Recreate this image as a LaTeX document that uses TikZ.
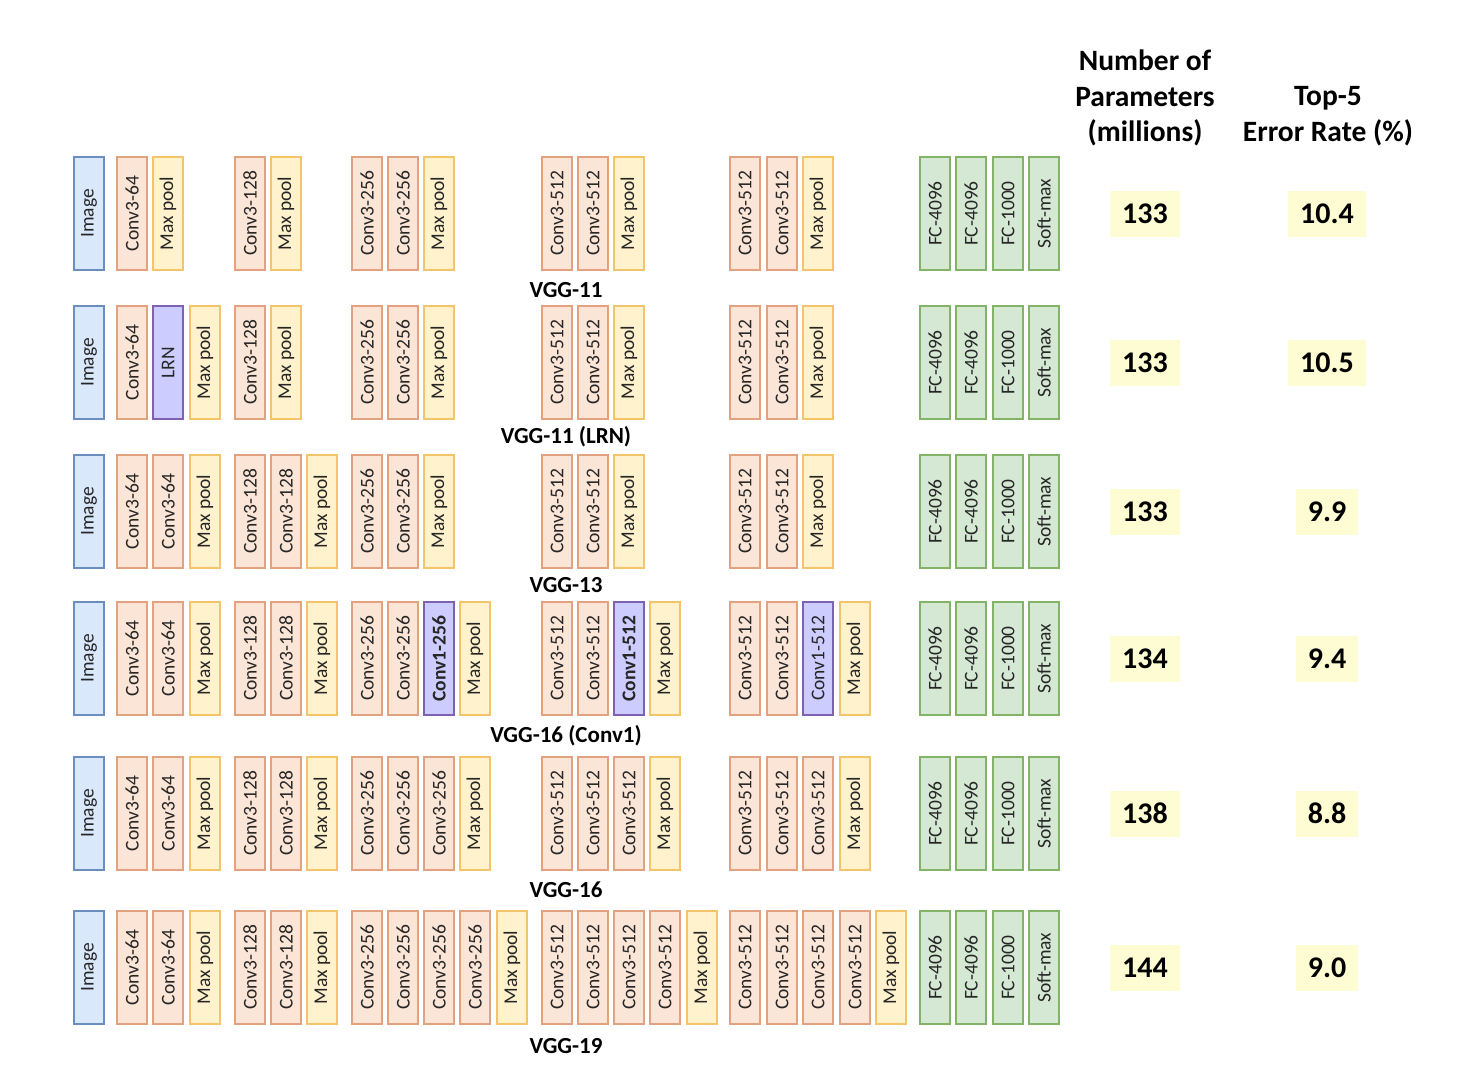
\documentclass[tikz,border=0pt]{standalone}
\usepackage{fontspec}
\setmainfont{Carlito}
\usetikzlibrary{positioning}
\definecolor{imgfill}{HTML}{DAE8FC}
\definecolor{imgdraw}{HTML}{6C8EBF}
\definecolor{convfill}{HTML}{FBE5D6}
\definecolor{convdraw}{HTML}{E3A27F}
\definecolor{poolfill}{HTML}{FFF2CC}
\definecolor{pooldraw}{HTML}{F4C46A}
\definecolor{lrnfill}{HTML}{CCCCFF}
\definecolor{lrndraw}{HTML}{7E62B2}
\definecolor{fcfill}{HTML}{D5E8D4}
\definecolor{fcdraw}{HTML}{82B366}
\definecolor{numfill}{HTML}{FEFCD2}
\tikzset{
	layer/.style = {
		rectangle,
		rotate=90,
		inner sep=0pt,
		minimum width=113pt,
		minimum height=30pt,
		line width=1.1pt,
		text=black!85,
		font=\fontsize{19.5}{19.5}\selectfont
	},
	node_img/.style = {
		layer,
		fill=imgfill,
		draw=imgdraw
	},
	node_conv/.style = {
		layer,
		fill=convfill,
		draw=convdraw
	},
	node_pool/.style = {
		layer,
		fill=poolfill,
		draw=pooldraw
	},
	node_lrn/.style = {
		layer,
		fill=lrnfill,
		draw=lrndraw
	},
	node_fc/.style = {
		layer,
		fill=fcfill,
		draw=fcdraw
	},
	node_num/.style = {
		fill=numfill,
		inner xsep=12pt,
		inner ysep=0pt,
		minimum height=46pt,
		font=\fontsize{30}{30}\selectfont\bfseries
	},
	node_head/.style = {
		align=center,
		font=\fontsize{29.5}{35.5}\selectfont\bfseries
	},
	node_name/.style = {
		font=\fontsize{23}{23}\selectfont\bfseries
	}
}
\def\colx{{89,132,168,205,250,286,322,367,403,439,475,512,557,593,629,665,702,745,782,818,855,891,935,971,1008,1044}}

\begin{document}
\begin{tikzpicture}[x=1pt,y=-1pt]
\useasboundingbox (0,0) rectangle (1460,1076);
\node [node_head] (head_par) at (1145,98) {Number of\\Parameters\\(millions)};
\node [node_head] (head_err) at (1328,116) {Top-5\\Error Rate (\%)};
% parts shared by all six rows
\foreach \r/\y/\ly/\name/\np/\err in {
	1/213.5/290/VGG-11/133/10.4,
	2/362.5/437/VGG-11 (LRN)/133/10.5,
	3/511.5/585/VGG-13/133/9.9,
	4/658.5/736/VGG-16 (Conv1)/134/9.4,
	5/813.5/890/VGG-16/138/8.8,
	6/967.5/1046/VGG-19/144/9.0} {
	\node [node_img] (img\r) at (89,\y) {Image};
	\node [node_fc] (fc\r-a) at (935,\y) {FC-4096};
	\node [node_fc] (fc\r-b) at (971,\y) {FC-4096};
	\node [node_fc] (fc\r-c) at (1008,\y) {FC-1000};
	\node [node_fc] (soft\r) at (1044,\y) {Soft-max};
	\node [node_name] (name\r) at (566,\ly) {\name};
	\node [node_num] (par\r) at (1145,\y) {\np};
	\node [node_num] (err\r) at (1327,\y) {\err};
}
% VGG-11
\foreach \c/\s/\t in {1/node_conv/Conv3-64, 2/node_pool/Max pool, 4/node_conv/Conv3-128, 5/node_pool/Max pool,
	7/node_conv/Conv3-256, 8/node_conv/Conv3-256, 9/node_pool/Max pool, 12/node_conv/Conv3-512, 13/node_conv/Conv3-512,
	14/node_pool/Max pool, 17/node_conv/Conv3-512, 18/node_conv/Conv3-512, 19/node_pool/Max pool} {
	\pgfmathsetmacro\x{\colx[\c]}
	\node [\s] (l1-\c) at (\x,213.5) {\t};
}
% VGG-11 (LRN)
\foreach \c/\s/\t in {1/node_conv/Conv3-64, 2/node_lrn/LRN, 3/node_pool/Max pool, 4/node_conv/Conv3-128, 5/node_pool/Max pool,
	7/node_conv/Conv3-256, 8/node_conv/Conv3-256, 9/node_pool/Max pool, 12/node_conv/Conv3-512, 13/node_conv/Conv3-512,
	14/node_pool/Max pool, 17/node_conv/Conv3-512, 18/node_conv/Conv3-512, 19/node_pool/Max pool} {
	\pgfmathsetmacro\x{\colx[\c]}
	\node [\s] (l2-\c) at (\x,362.5) {\t};
}
% VGG-13
\foreach \c/\s/\t in {1/node_conv/Conv3-64, 2/node_conv/Conv3-64, 3/node_pool/Max pool, 4/node_conv/Conv3-128, 5/node_conv/Conv3-128,
	6/node_pool/Max pool, 7/node_conv/Conv3-256, 8/node_conv/Conv3-256, 9/node_pool/Max pool, 12/node_conv/Conv3-512, 13/node_conv/Conv3-512,
	14/node_pool/Max pool, 17/node_conv/Conv3-512, 18/node_conv/Conv3-512, 19/node_pool/Max pool} {
	\pgfmathsetmacro\x{\colx[\c]}
	\node [\s] (l3-\c) at (\x,511.5) {\t};
}
% VGG-16 (Conv1)
\foreach \c/\s/\t in {1/node_conv/Conv3-64, 2/node_conv/Conv3-64, 3/node_pool/Max pool, 4/node_conv/Conv3-128, 5/node_conv/Conv3-128,
	6/node_pool/Max pool, 7/node_conv/Conv3-256, 8/node_conv/Conv3-256, 9/node_lrn/\textbf{Conv1-256}, 10/node_pool/Max pool,
	12/node_conv/Conv3-512, 13/node_conv/Conv3-512, 14/node_lrn/\textbf{Conv1-512}, 15/node_pool/Max pool,
	17/node_conv/Conv3-512, 18/node_conv/Conv3-512, 19/node_lrn/Conv1-512, 20/node_pool/Max pool} {
	\pgfmathsetmacro\x{\colx[\c]}
	\node [\s] (l4-\c) at (\x,658.5) {\t};
}
% VGG-16
\foreach \c/\s/\t in {1/node_conv/Conv3-64, 2/node_conv/Conv3-64, 3/node_pool/Max pool, 4/node_conv/Conv3-128, 5/node_conv/Conv3-128,
	6/node_pool/Max pool, 7/node_conv/Conv3-256, 8/node_conv/Conv3-256, 9/node_conv/Conv3-256, 10/node_pool/Max pool,
	12/node_conv/Conv3-512, 13/node_conv/Conv3-512, 14/node_conv/Conv3-512, 15/node_pool/Max pool,
	17/node_conv/Conv3-512, 18/node_conv/Conv3-512, 19/node_conv/Conv3-512, 20/node_pool/Max pool} {
	\pgfmathsetmacro\x{\colx[\c]}
	\node [\s] (l5-\c) at (\x,813.5) {\t};
}
% VGG-19
\foreach \c/\s/\t in {1/node_conv/Conv3-64, 2/node_conv/Conv3-64, 3/node_pool/Max pool, 4/node_conv/Conv3-128, 5/node_conv/Conv3-128,
	6/node_pool/Max pool, 7/node_conv/Conv3-256, 8/node_conv/Conv3-256, 9/node_conv/Conv3-256, 10/node_conv/Conv3-256, 11/node_pool/Max pool,
	12/node_conv/Conv3-512, 13/node_conv/Conv3-512, 14/node_conv/Conv3-512, 15/node_conv/Conv3-512, 16/node_pool/Max pool,
	17/node_conv/Conv3-512, 18/node_conv/Conv3-512, 19/node_conv/Conv3-512, 20/node_conv/Conv3-512, 21/node_pool/Max pool} {
	\pgfmathsetmacro\x{\colx[\c]}
	\node [\s] (l6-\c) at (\x,967.5) {\t};
}
\end{tikzpicture}
\end{document}
